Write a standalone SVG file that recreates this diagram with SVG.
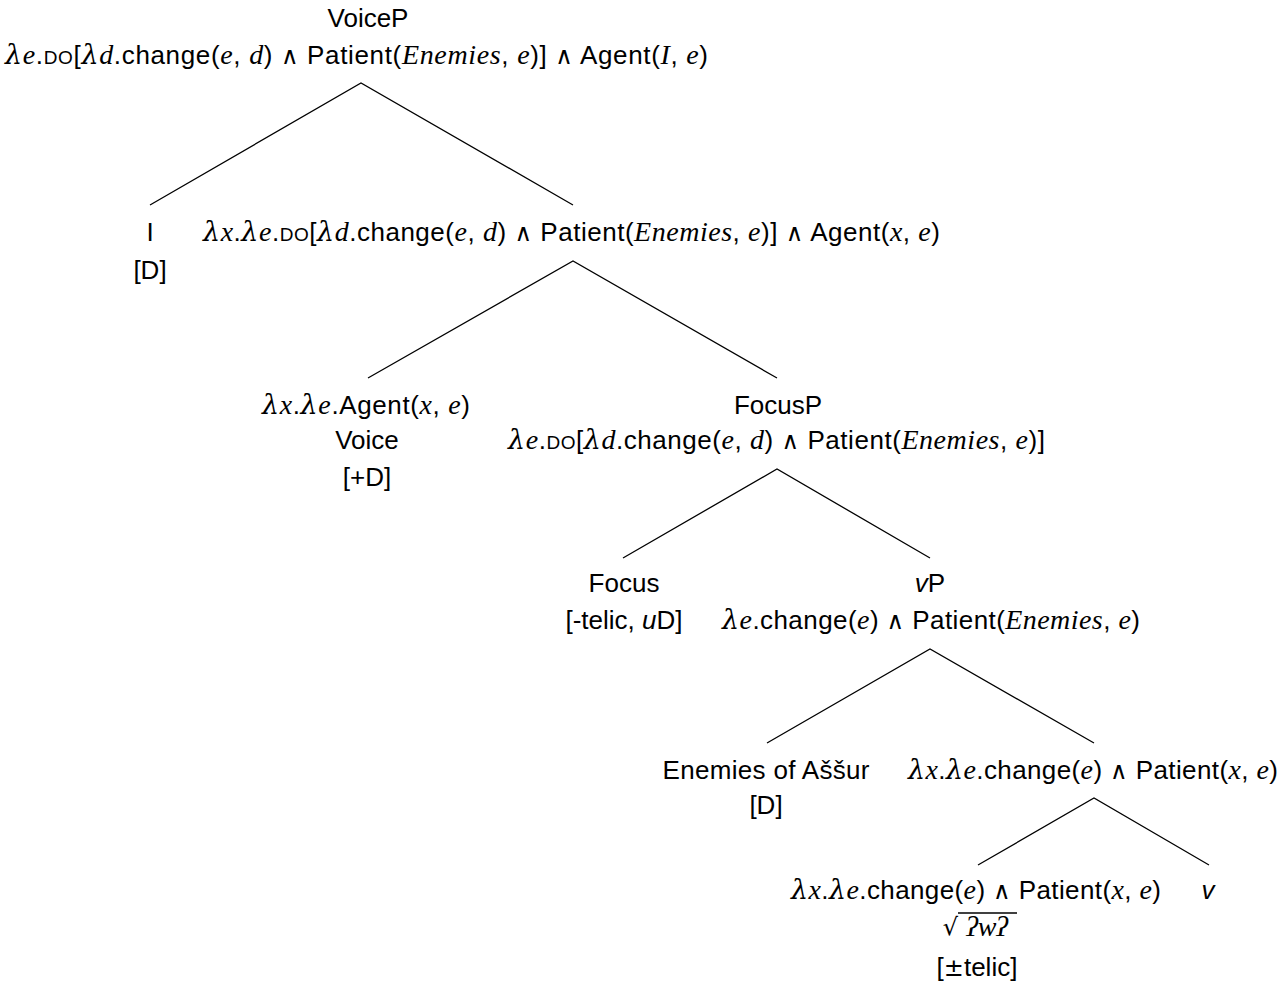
<svg xmlns="http://www.w3.org/2000/svg" width="1285" height="983" viewBox="0 0 1285 983">
<style>
  .t { font-family: "Liberation Sans", Arial, sans-serif; font-size: 26px; fill: #000; }
  .m { font-family: "Liberation Serif", "Times New Roman", serif; font-style: italic; font-size: 28px; }
  .l { font-family: "DejaVu Serif", "Liberation Serif", serif; font-style: italic; font-size: 27px; }
  .sc { font-size: 19px; }
  .op { font-family: "DejaVu Sans", sans-serif; font-size: 24px; }
  .e { stroke: #000; stroke-width: 1.3; fill: none; }
</style>
<rect width="1285" height="983" fill="#fff"/>

<!-- branches -->
<g id="edges">
  <path class="e" d="M150,205 L361,83 L573,205"/>
  <path class="e" d="M368,378 L573,261 L777,378"/>
  <path class="e" d="M623,558 L777,469 L930,558"/>
  <path class="e" d="M767,743 L930,649 L1094,743"/>
  <path class="e" d="M978,865 L1094,798 L1209,865"/>
</g>

<g id="voiceP" class="t" text-anchor="middle">
  <text x="368" y="27">VoiceP</text>
  <text x="356.5" y="64" textLength="703"><tspan class="l">λ</tspan><tspan class="m">e</tspan>.<tspan class="sc">DO</tspan>[<tspan class="l">λ</tspan><tspan class="m">d</tspan>.change(<tspan class="m">e</tspan>, <tspan class="m">d</tspan>) <tspan class="op">∧</tspan> Patient(<tspan class="m">Enemies</tspan>, <tspan class="m">e</tspan>)] <tspan class="op">∧</tspan> Agent(<tspan class="m">I</tspan>, <tspan class="m">e</tspan>)</text>
</g>

<g id="subjI" class="t" text-anchor="middle">
  <text x="150" y="241">I</text>
  <text x="150" y="279">[D]</text>
</g>

<g id="voiceBar" class="t" text-anchor="middle">
  <text x="571.5" y="241" textLength="737"><tspan class="l">λ</tspan><tspan class="m">x</tspan>.<tspan class="l">λ</tspan><tspan class="m">e</tspan>.<tspan class="sc">DO</tspan>[<tspan class="l">λ</tspan><tspan class="m">d</tspan>.change(<tspan class="m">e</tspan>, <tspan class="m">d</tspan>) <tspan class="op">∧</tspan> Patient(<tspan class="m">Enemies</tspan>, <tspan class="m">e</tspan>)] <tspan class="op">∧</tspan> Agent(<tspan class="m">x</tspan>, <tspan class="m">e</tspan>)</text>
</g>

<g id="voiceHead" class="t" text-anchor="middle">
  <text x="366" y="414" textLength="208"><tspan class="l">λ</tspan><tspan class="m">x</tspan>.<tspan class="l">λ</tspan><tspan class="m">e</tspan>.Agent(<tspan class="m">x</tspan>, <tspan class="m">e</tspan>)</text>
  <text x="367" y="449">Voice</text>
  <text x="367" y="486">[+D]</text>
</g>

<g id="focusP" class="t" text-anchor="middle">
  <text x="778" y="414">FocusP</text>
  <text x="776.5" y="449" textLength="537"><tspan class="l">λ</tspan><tspan class="m">e</tspan>.<tspan class="sc">DO</tspan>[<tspan class="l">λ</tspan><tspan class="m">d</tspan>.change(<tspan class="m">e</tspan>, <tspan class="m">d</tspan>) <tspan class="op">∧</tspan> Patient(<tspan class="m">Enemies</tspan>, <tspan class="m">e</tspan>)]</text>
</g>

<g id="focusHead" class="t" text-anchor="middle">
  <text x="624" y="592">Focus</text>
  <text x="624" y="629">[-telic, <tspan font-style="italic">u</tspan>D]</text>
</g>

<g id="vP" class="t" text-anchor="middle">
  <text x="930" y="592"><tspan font-style="italic">v</tspan>P</text>
  <text x="931" y="629" textLength="418"><tspan class="l">λ</tspan><tspan class="m">e</tspan>.change(<tspan class="m">e</tspan>) <tspan class="op">∧</tspan> Patient(<tspan class="m">Enemies</tspan>, <tspan class="m">e</tspan>)</text>
</g>

<g id="object" class="t" text-anchor="middle">
  <text x="766" y="779" textLength="207">Enemies of Aššur</text>
  <text x="766" y="814">[D]</text>
</g>

<g id="vBar" class="t" text-anchor="middle">
  <text x="1093" y="779" textLength="370"><tspan class="l">λ</tspan><tspan class="m">x</tspan>.<tspan class="l">λ</tspan><tspan class="m">e</tspan>.change(<tspan class="m">e</tspan>) <tspan class="op">∧</tspan> Patient(<tspan class="m">x</tspan>, <tspan class="m">e</tspan>)</text>
</g>

<g id="root" class="t" text-anchor="middle">
  <text x="976" y="899" textLength="370"><tspan class="l">λ</tspan><tspan class="m">x</tspan>.<tspan class="l">λ</tspan><tspan class="m">e</tspan>.change(<tspan class="m">e</tspan>) <tspan class="op">∧</tspan> Patient(<tspan class="m">x</tspan>, <tspan class="m">e</tspan>)</text>
  <!-- radical with vinculum -->
  <text x="950.5" y="935" class="op" font-size="28">√</text>
  <line class="e" x1="958" y1="913" x2="1017" y2="913"/>
  <text x="987" y="936" class="m" font-size="26">ʔwʔ</text>
  <text x="977" y="976">[<tspan class="op">±</tspan>telic]</text>
</g>

<g id="vHead" class="t" text-anchor="middle">
  <text x="1208" y="899" font-style="italic">v</text>
</g>
</svg>
